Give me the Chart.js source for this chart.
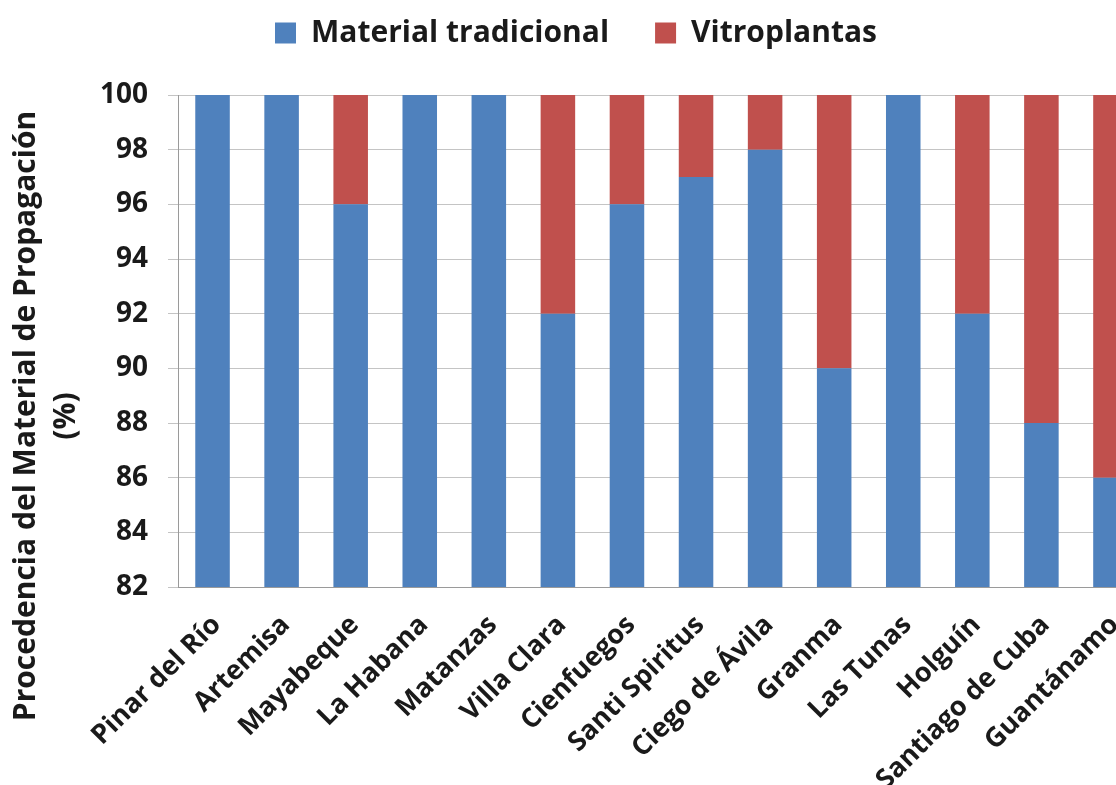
<!DOCTYPE html>
<html lang="es">
<head>
<meta charset="utf-8">
<title>Procedencia del Material de Propagación</title>
<script src="https://cdn.jsdelivr.net/npm/chart.js@4/dist/chart.umd.min.js"></script>
<style>
  html, body { margin: 0; padding: 0; background: #ffffff; overflow: hidden; }
  #wrap { width: 1116px; height: 785px; overflow: hidden; position: relative; }
  #chart { position: absolute; left: 0; top: 0; }
</style>
</head>
<body>
<div id="wrap"><canvas id="chart" width="1155" height="785"></canvas></div>
<script>
// Provincias
const provincias = [
  'Pinar del Río', 'Artemisa', 'Mayabeque', 'La Habana', 'Matanzas',
  'Villa Clara', 'Cienfuegos', 'Santi Spiritus', 'Ciego de Ávila', 'Granma',
  'Las Tunas', 'Holguín', 'Santiago de Cuba', 'Guantánamo'
];
// Porcentaje de material tradicional
const materialTradicional = [100, 100, 96, 100, 100, 92, 96, 97, 98, 90, 100, 92, 88, 86];
// Porcentaje de vitroplantas
const vitroplantas = [0, 0, 4, 0, 0, 8, 4, 3, 2, 10, 0, 8, 12, 14];
// Eje Y
const yMin = 82;
const yMax = 100;
const yStep = 2;
const yTitulo = ['Procedencia del Material de Propagación', '(%)'];

const FONT = '"Open Sans", Lato, sans-serif';
const TEXT = '#1a1a1a';
const LEGEND_EXTRA = 37; // espacio entre la leyenda y el área de trazado
const PAD_LEFT = 7;

// Título del eje Y, dos líneas giradas
const yTitlePlugin = {
  id: 'yTitle',
  afterDraw(chart) {
    const ctx = chart.ctx;
    ctx.save();
    ctx.fillStyle = TEXT;
    ctx.font = 'bold 30px ' + FONT;
    ctx.textAlign = 'center';
    ctx.textBaseline = 'middle';
    const xs = [26, 66];
    yTitulo.forEach((t, i) => {
      ctx.save();
      ctx.translate(xs[i], 416);
      ctx.rotate(-Math.PI / 2);
      ctx.fillText(t, 0, 0);
      ctx.restore();
    });
    ctx.restore();
  }
};

// Deja más aire bajo la leyenda sin cambiar el espaciado entre sus elementos
const legendGapPlugin = {
  id: 'legendGap',
  beforeLayout(chart) {
    const lg = chart.legend;
    if (lg && !lg._gapPatched) {
      const fit = lg.fit;
      lg.fit = function () {
        fit.call(this);
        this.height += LEGEND_EXTRA;
      };
      lg._gapPatched = true;
    }
  }
};

new Chart(document.getElementById('chart'), {
  type: 'bar',
  data: {
    labels: provincias,
    datasets: [
      { label: 'Material tradicional', data: materialTradicional, backgroundColor: '#4f81bd', borderWidth: 0 },
      { label: 'Vitroplantas', data: vitroplantas, backgroundColor: '#c0504d', borderWidth: 0 }
    ]
  },
  options: {
    responsive: false,
    devicePixelRatio: 1,
    animation: false,
    layout: { padding: { left: PAD_LEFT, right: 10, top: -28, bottom: 0 } },
    datasets: { bar: { barPercentage: 0.5, categoryPercentage: 1.0 } },
    plugins: {
      legend: {
        position: 'top',
        labels: {
          color: TEXT,
          font: { family: FONT, size: 30, weight: 'bold' },
          boxWidth: 21,
          boxHeight: 21,
          padding: 46
        }
      },
      tooltip: { enabled: false }
    },
    scales: {
      x: {
        stacked: true,
        grid: { display: false, drawTicks: false },
        border: { display: true, color: '#9a9a9a', width: 1 },
        ticks: {
          color: TEXT,
          font: { family: FONT, size: 27, weight: 'bold' },
          minRotation: 45,
          maxRotation: 45,
          autoSkip: false,
          padding: 22,
          labelOffset: 4
        },
        afterFit(scale) {
          scale.height = 198;
          scale.paddingLeft = 0;
          scale.paddingRight = 0;
        }
      },
      y: {
        stacked: true,
        min: yMin,
        max: yMax,
        ticks: {
          stepSize: yStep,
          color: TEXT,
          font: { family: FONT, size: 28, weight: 'bold' },
          padding: 20
        },
        grid: { color: '#c4c4c4', lineWidth: 1, tickLength: 10, drawTicks: true },
        border: { display: true, color: '#9a9a9a', width: 1 },
        afterFit(scale) { scale.width = 178 - PAD_LEFT; }
      }
    }
  },
  plugins: [yTitlePlugin, legendGapPlugin]
});
</script>
</body>
</html>
